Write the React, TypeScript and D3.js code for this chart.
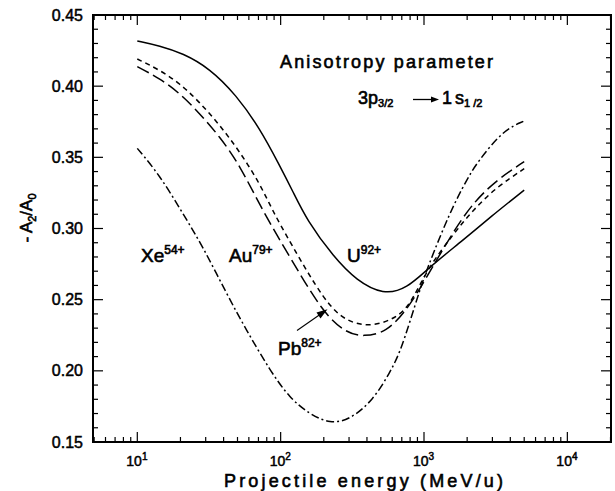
import React from "react";
import * as d3 from "d3";

// U92+ (solid)
const uEnergy = [10, 14.3, 20.8, 32, 49, 71.5, 98, 122, 152, 233, 340, 520, 757, 1100, 1880, 2900, 5000];
const uValues = [0.4318, 0.4284, 0.4231, 0.4125, 0.3938, 0.3704, 0.3446, 0.3258, 0.306, 0.2802, 0.2632, 0.2535, 0.2575, 0.2732, 0.2919, 0.308, 0.327];
// Au79+ (short dashes)
const auEnergy = [10, 14.3, 19.8, 27.2, 37.6, 51.8, 71.5, 88.5, 116, 204, 288, 420, 611, 798, 1043, 1600, 2200, 3200, 5000];
const auValues = [0.4191, 0.4114, 0.402, 0.3887, 0.3727, 0.354, 0.3317, 0.3118, 0.2907, 0.248, 0.2345, 0.231, 0.236, 0.2455, 0.271, 0.296, 0.313, 0.329, 0.342];
// Pb82+ (long dashes)
const pbEnergy = [10, 14.3, 19.8, 27.2, 37.6, 51.8, 75.4, 116, 198, 288, 377, 548, 757, 988, 1600, 2200, 3200, 5000];
const pbValues = [0.4137, 0.4055, 0.395, 0.3809, 0.3645, 0.3446, 0.3118, 0.28, 0.2404, 0.2265, 0.224, 0.227, 0.2427, 0.2615, 0.298, 0.318, 0.334, 0.347];
// Xe54+ (dash-dot)
const xeEnergy = [10, 14.3, 20.8, 28.7, 41.8, 57.6, 83.9, 115.7, 160, 221, 305, 443, 580, 680, 800, 937, 1043, 1520, 1980, 2330, 3570, 5000];
const xeValues = [0.3563, 0.3376, 0.3105, 0.2872, 0.2545, 0.2287, 0.2006, 0.1807, 0.1695, 0.1628, 0.1657, 0.1795, 0.199, 0.213, 0.235, 0.257, 0.271, 0.3118, 0.334, 0.346, 0.3692, 0.3755];

const yTickLabels = ["0.15", "0.20", "0.25", "0.30", "0.35", "0.40", "0.45"];
const xTickExponents = ["1", "2", "3", "4"];

const W = 615, H = 491;
const L = 93, R = 611, T = 15, B = 442;
const FONT = "'Liberation Sans', Arial, Helvetica, sans-serif";

export default function App() {
  const x = d3.scaleLog().domain([10, 1000]).range([137.3, 424]);
  const xMin = x.invert(L), xMax = x.invert(R);
  const y = d3.scaleLinear().domain([0.15, 0.45]).range([B, T]);

  const line = (es: number[], vals: number[]) =>
    d3.line<number>()
      .x((_, i) => x(es[i]))
      .y((v) => y(v))
      .curve(d3.curveBasis)(vals) as string;

  const xMinor: { v: number; major: boolean }[] = [];
  for (let k = 0; k <= 4; k++) {
    for (let m = 1; m <= 9; m++) {
      const v = m * Math.pow(10, k);
      if (v >= xMin && v <= xMax) xMinor.push({ v, major: m === 1 });
    }
  }
  const yTicks: { v: number; major: boolean }[] = [];
  for (let i = 15; i <= 45; i++) yTicks.push({ v: i / 100, major: i % 5 === 0 });

  const txt = { fontFamily: FONT, fill: "#000", stroke: "#000", strokeWidth: 0.6 } as const;
  const tick = { fontFamily: FONT, fill: "#000", stroke: "#000", strokeWidth: 0.5 } as const;

  return (
    <svg width={W} height={H} style={{ position: "absolute", left: 0, top: 0, background: "#fff" }}>
      <rect x={0} y={0} width={W} height={H} fill="#fff" />
      <g stroke="#000" strokeWidth={1.2}>
        {xMinor.map((t, i) => {
          const px = x(t.v);
          const len = t.major ? 10 : 5;
          return (
            <g key={"xt" + i}>
              <line x1={px} x2={px} y1={B} y2={B - len} />
              <line x1={px} x2={px} y1={T} y2={T + len} />
            </g>
          );
        })}
        {yTicks.map((t, i) => {
          const py = y(t.v);
          const len = t.major ? 10 : 5;
          return (
            <g key={"yt" + i}>
              <line x1={L} x2={L + len} y1={py} y2={py} />
              <line x1={R} x2={R - len} y1={py} y2={py} />
            </g>
          );
        })}
      </g>
      <rect x={L} y={T} width={R - L} height={B - T} fill="none" stroke="#000" strokeWidth={2} />

      <g fill="none" stroke="#000" strokeWidth={1.5}>
        <path d={line(uEnergy, uValues)} />
        <path d={line(auEnergy, auValues)} strokeDasharray="5 4" />
        <path d={line(pbEnergy, pbValues)} strokeDasharray="13 5" />
        <path d={line(xeEnergy, xeValues)} strokeDasharray="8 3 2 3" />
      </g>

      {yTickLabels.map((s) => (
        <text key={s} x={83} y={y(+s) + 5.5} textAnchor="end" fontSize={16} {...tick}>{s}</text>
      ))}
      {xTickExponents.map((e) => {
        const px = x(Math.pow(10, +e));
        return (
          <text key={e} x={px - 11} y={466} fontSize={14} {...tick}>
            10<tspan fontSize={10} dy={-6}>{e}</tspan>
          </text>
        );
      })}

      <text x={224} y={487} fontSize={18} textLength={279} lengthAdjust="spacing" {...txt}>Projectile energy (MeV/u)</text>
      <text transform="translate(32,218) rotate(-90)" textAnchor="middle" fontSize={17} {...txt}>
        -  A<tspan fontSize={11} dy={4}>2</tspan><tspan fontSize={17} dy={-4}>/A</tspan><tspan fontSize={11} dy={4}>0</tspan>
      </text>

      <text x={280} y={68} fontSize={18} textLength={213} lengthAdjust="spacing" {...txt}>Anisotropy parameter</text>
      <text x={358} y={104} fontSize={18} {...txt}>
        3p<tspan fontSize={11} dy={3}>3/2</tspan>
      </text>
      <line x1={413} x2={432} y1={99.5} y2={99.5} stroke="#000" strokeWidth={1.3} />
      <path d="M431,96.5 L439,99.5 L431,102.5 Z" fill="#000" />
      <text x={442} y={104} fontSize={18} {...txt}>
        1<tspan dx={3}>s</tspan><tspan fontSize={11} dy={3}>1 /2</tspan>
      </text>

      <text x={141} y={262} fontSize={19} {...txt}>Xe<tspan fontSize={12} dy={-8}>54+</tspan></text>
      <text x={229} y={262} fontSize={19} {...txt}>Au<tspan fontSize={12} dy={-8}>79+</tspan></text>
      <text x={347} y={262} fontSize={19} {...txt}>U<tspan fontSize={12} dy={-8}>92+</tspan></text>
      <text x={278} y={355} fontSize={19} {...txt}>Pb<tspan fontSize={12} dy={-8}>82+</tspan></text>
      <line x1={297} y1={330.5} x2={320} y2={314.5} stroke="#000" strokeWidth={1.2} />
      <path d="M327.5,309.3 L316.5,312.5 L320.5,318.5 Z" fill="#000" />
    </svg>
  );
}
